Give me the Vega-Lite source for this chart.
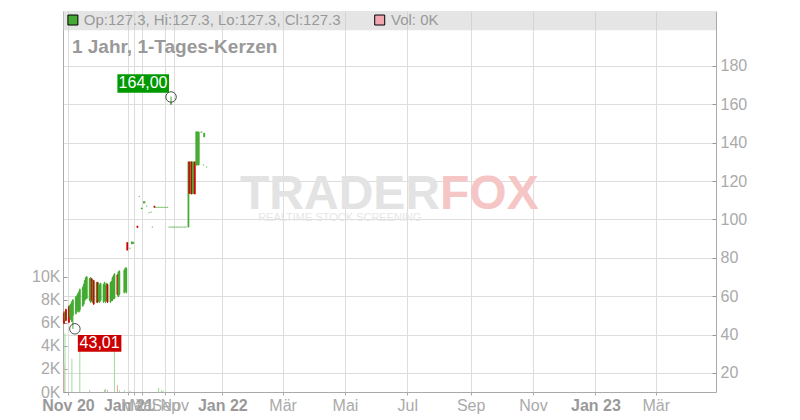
{
"$schema": "https://vega.github.io/schema/vega-lite/v6.json",
"width": 653, "height": 381,
"autosize": {"type": "none"},
"padding": {"left": 63, "top": 11, "right": 84, "bottom": 28},
"background": "#ffffff",
"config": {"view": {"stroke": null}, "font": "Liberation Sans"},
"data": {"values": [
{"d":"2020-10-28","o":51,"h":52,"l":45.5,"c":46,"v":2400},
{"d":"2020-10-29","o":47.5,"h":52,"l":47,"c":51.5,"v":5100},
{"d":"2020-10-30","o":53,"h":53.5,"l":47,"c":47.5},
{"d":"2020-11-02","o":54.5,"h":55,"l":46,"c":46.5},
{"d":"2020-11-03","o":49,"h":55.5,"l":48.5,"c":55},
{"d":"2020-11-04","o":48,"h":56,"l":47.5,"c":56},
{"d":"2020-11-05","o":47,"h":57.5,"l":46.5,"c":57,"v":2900},
{"d":"2020-11-06","o":50,"h":58.5,"l":43.01,"c":58},
{"d":"2020-11-09","o":51,"h":60,"l":50.5,"c":59.5},
{"d":"2020-11-10","o":52,"h":60.5,"l":51.5,"c":60},
{"d":"2020-11-11","o":53,"h":61.5,"l":52.5,"c":61},
{"d":"2020-11-12","o":52,"h":62.5,"l":51.5,"c":62},
{"d":"2020-11-13","o":53,"h":64,"l":52,"c":63.5,"v":3900},
{"d":"2020-11-16","o":55,"h":65,"l":54.5,"c":64.5},
{"d":"2020-11-17","o":56,"h":66.5,"l":55.5,"c":66},
{"d":"2020-11-18","o":58,"h":68.5,"l":57.5,"c":68},
{"d":"2020-11-19","o":59,"h":70,"l":58.5,"c":69.5},
{"d":"2020-11-20","o":59,"h":70.5,"l":58.5,"c":70},
{"d":"2020-11-23","o":58,"h":69.5,"l":57.5,"c":69,"v":200},
{"d":"2020-11-24","o":57,"h":70,"l":56.5,"c":69.5},
{"d":"2020-11-25","o":69,"h":69.5,"l":57.5,"c":58},
{"d":"2020-11-26","o":57,"h":68.5,"l":56.5,"c":68},
{"d":"2020-11-27","o":68,"h":68.5,"l":55.5,"c":56},
{"d":"2020-11-30","o":57,"h":67.5,"l":56.5,"c":67},
{"d":"2020-12-01","o":67,"h":67.5,"l":56.5,"c":57},
{"d":"2020-12-02","o":58,"h":67,"l":57.5,"c":66.5},
{"d":"2020-12-03","o":57,"h":66,"l":56.5,"c":65.5},
{"d":"2020-12-04","o":58,"h":67,"l":57.5,"c":66.5},
{"d":"2020-12-07","o":57,"h":66.5,"l":56.5,"c":66},
{"d":"2020-12-08","o":58,"h":67.5,"l":57.5,"c":67,"v":200},
{"d":"2020-12-09","o":57,"h":66,"l":56.5,"c":65.5,"v":250},
{"d":"2020-12-10","o":58,"h":67,"l":57.5,"c":66.5},
{"d":"2020-12-11","o":66,"h":66.5,"l":56.5,"c":57,"v":200},
{"d":"2020-12-14","o":57,"h":67.5,"l":56.5,"c":67},
{"d":"2020-12-15","o":58,"h":68,"l":57.5,"c":67.5},
{"d":"2020-12-16","o":58,"h":70,"l":57.5,"c":69.5},
{"d":"2020-12-17","o":59,"h":71,"l":58.5,"c":70.5},
{"d":"2020-12-18","o":59,"h":72,"l":58.5,"c":71.5,"v":4100},
{"d":"2020-12-21","o":71,"h":71.5,"l":60.5,"c":61,"v":600},
{"d":"2020-12-22","o":60,"h":73,"l":59.5,"c":72.5},
{"d":"2020-12-23","o":61,"h":73.5,"l":60.5,"c":73,"v":150},
{"d":"2020-12-28","o":62,"h":74,"l":61.5,"c":73.5,"v":150},
{"d":"2020-12-29","o":63,"h":75,"l":62.5,"c":74.5},
{"d":"2020-12-30","o":62,"h":75,"l":61.5,"c":74.5},
{"d":"2020-12-31","o":88,"h":88,"l":84,"c":84},
{"d":"2021-01-18","o":85,"h":85,"l":85,"c":85,"v":100},
{"d":"2021-02-05","o":87.2,"h":88.4,"l":87.2,"c":88.4},
{"d":"2021-02-20","o":87.5,"h":88,"l":87.5,"c":88},
{"d":"2021-03-25","o":96.6,"h":96.6,"l":95.8,"c":95.8},
{"d":"2021-04-08","o":112,"h":112,"l":112,"c":112},
{"d":"2021-04-26","o":105.5,"h":106,"l":105.5,"c":106},
{"d":"2021-05-10","o":108.5,"h":109.3,"l":108.5,"c":109.3},
{"d":"2021-05-16","o":109,"h":109,"l":109,"c":109},
{"d":"2021-05-24","o":107,"h":107,"l":107,"c":107},
{"d":"2021-06-06","o":103.5,"h":103.5,"l":103.5,"c":103.5},
{"d":"2021-06-17","o":103.8,"h":103.8,"l":103.8,"c":103.8},
{"d":"2021-06-24","o":96,"h":96,"l":96,"c":96},
{"d":"2021-07-05","o":107,"h":107,"l":106.3,"c":106.3},
{"d":"2021-07-11","o":106.3,"h":106.3,"l":106.3,"c":106.3},
{"d":"2021-07-19","o":106.3,"h":106.3,"l":106.3,"c":106.3},
{"d":"2021-07-27","o":106.3,"h":106.3,"l":106.3,"c":106.3,"v":350},
{"d":"2021-08-04","o":106.3,"h":106.3,"l":106.3,"c":106.3},
{"d":"2021-08-12","o":106.3,"h":106.3,"l":106.3,"c":106.3,"v":150},
{"d":"2021-08-20","o":106.3,"h":106.3,"l":106.3,"c":106.3,"v":100},
{"d":"2021-08-28","o":106.3,"h":106.3,"l":106.3,"c":106.3},
{"d":"2021-09-06","o":106.3,"h":106.3,"l":106.3,"c":106.3},
{"d":"2021-09-16","o":106.3,"h":106.3,"l":106.3,"c":106.3},
{"d":"2021-09-28","o":96,"h":96,"l":96,"c":96},
{"d":"2021-10-08","o":96,"h":96,"l":96,"c":96},
{"d":"2021-10-10","o":160,"h":164,"l":159.8,"c":160.4},
{"d":"2021-10-18","o":96,"h":96,"l":96,"c":96},
{"d":"2021-10-28","o":96,"h":96,"l":96,"c":96},
{"d":"2021-11-02","o":96,"h":96,"l":96,"c":96},
{"d":"2021-11-04","o":96,"h":96,"l":96,"c":96},
{"d":"2021-11-06","o":96,"h":96,"l":96,"c":96},
{"d":"2021-11-08","o":96,"h":96,"l":96,"c":96},
{"d":"2021-11-10","o":96,"h":96,"l":96,"c":96},
{"d":"2021-11-12","o":96,"h":96,"l":96,"c":96},
{"d":"2021-11-14","o":96,"h":96,"l":96,"c":96},
{"d":"2021-11-16","o":96,"h":96,"l":96,"c":96},
{"d":"2021-11-19","o":96,"h":130,"l":96,"c":130},
{"d":"2021-11-20","o":130,"h":130,"l":113.5,"c":113.5},
{"d":"2021-11-22","o":113.5,"h":130,"l":113.5,"c":130},
{"d":"2021-11-23","o":130,"h":130,"l":113.2,"c":113.2},
{"d":"2021-11-25","o":113.5,"h":130,"l":113.5,"c":130},
{"d":"2021-11-27","o":130,"h":130,"l":113.2,"c":113.2},
{"d":"2021-11-29","o":128.3,"h":145.7,"l":128.3,"c":145.7},
{"d":"2021-12-01","o":128.3,"h":145.7,"l":128.3,"c":145.7},
{"d":"2021-12-02","o":128.5,"h":145.5,"l":128.5,"c":145.5},
{"d":"2021-12-05","o":145.5,"h":145.5,"l":145.5,"c":145.5},
{"d":"2021-12-06","o":145.5,"h":145.5,"l":145.5,"c":145.5},
{"d":"2021-12-08","o":128.3,"h":128.3,"l":128.3,"c":128.3},
{"d":"2021-12-09","o":143,"h":145,"l":143,"c":145},
{"d":"2021-12-12","o":127.3,"h":127.3,"l":127.3,"c":127.3}
]},
"encoding": {
  "x": {"field": "d", "type": "temporal", "title": null,
    "scale": {"type": "utc", "nice": false,
      "domain": [1603756800000, 1682726400000],
      "domainRaw": {"expr": "[1603756800000, 1609459200000, 1614556800000, 1619827200000, 1630454400000, 1635724800000, 1640995200000, 1682726400000]"},
      "range": [0, 65.3, 71.3, 79.3, 102.3, 111.3, 159.3, 653]},
    "axis": {
      "values": [1604188800000, 1609459200000, 1614556800000, 1619827200000, 1630454400000, 1635724800000, 1640995200000, 1646092800000, 1651363200000, 1656633600000, 1661990400000, 1667260800000, 1672531200000, 1677628800000],
      "labelExpr": "(['Jan','Feb','Mär','Apr','Mai','Jun','Jul','Aug','Sep','Okt','Nov','Dez'])[utcmonth(datum.value)] + ((utcmonth(datum.value)==0 || utcyear(datum.value)==2020) ? ' ' + (utcyear(datum.value) % 100) : '')",
      "labelFontWeight": {"condition": {"test": "utcmonth(datum.value)==0 || utcyear(datum.value)==2020", "value": "bold"}, "value": "normal"},
      "labelColor": {"condition": {"test": "utcmonth(datum.value)==0 || utcyear(datum.value)==2020", "value": "#999999"}, "value": "#aaaaaa"},
      "labelFontSize": 16, "labelFont": "Liberation Sans",
      "labelOverlap": false, "labelBound": false, "labelFlush": false,
      "grid": true, "gridColor": "#dddddd", "domainColor": "#aaaaaa", "tickColor": "#aaaaaa",
      "tickSize": 3, "labelPadding": 2, "title": null}
  }
},
"layer": [
  {"mark": {"type": "bar", "width": 1},
   "encoding": {
     "y": {"field": "v", "type": "quantitative", "stack": null, "title": null,
       "scale": {"domain": [0, 33130], "nice": false, "zero": true},
       "axis": {"orient": "left", "values": [0,2000,4000,6000,8000,10000], "labelExpr": "(datum.value/1000) + 'K'",
         "grid": false, "domainColor": "#aaaaaa", "tickColor": "#999999", "tickSize": -4, "labelPadding": 7,
         "labelFontSize": 16, "labelFont": "Liberation Sans", "labelColor": "#aaaaaa", "title": null}},
     "fill": {"condition": {"test": "datum.c < datum.o", "value": "#f2a6a6"}, "value": "#a3d99d"}
   }},
  {"layer": [
    {"data": {"values": [{"d": "2020-10-27", "d2": "2023-04-29", "p": 198.6, "p2": 208.6}]},
     "mark": {"type": "rect", "fill": "#cccccc", "opacity": 0.5},
     "encoding": {
       "x2": {"field": "d2"},
       "y": {"field": "p", "type": "quantitative", "title": null, "scale": {"domain": [10.1, 208.6], "nice": false, "zero": false}},
       "y2": {"field": "p2"}}},
    {"data": {"values": [{"d": "2022-08-02", "p": 112.7}]},
     "mark": {"type": "text", "text": "TRADER", "align": "right", "baseline": "middle", "font": "Liberation Sans", "fontWeight": "bold", "fontSize": 48, "color": "#e3e3e3"},
     "encoding": {
       "y": {"field": "p", "type": "quantitative", "title": null, "scale": {"domain": [10.1, 208.6], "nice": false, "zero": false}}}},
    {"data": {"values": [{"d": "2022-08-02", "p": 112.7}]},
     "mark": {"type": "text", "text": "FOX", "align": "left", "baseline": "middle", "font": "Liberation Sans", "fontWeight": "bold", "fontSize": 48, "color": "#f6c6c6"},
     "encoding": {
       "y": {"field": "p", "type": "quantitative", "title": null, "scale": {"domain": [10.1, 208.6], "nice": false, "zero": false}}}},
    {"data": {"values": [{"d": "2022-04-26", "p": 100.7}]},
     "mark": {"type": "text", "text": "REALTIME STOCK SCREENING", "align": "center", "baseline": "middle", "font": "Liberation Sans", "fontSize": 11, "color": "#e6e6e6"},
     "encoding": {
       "y": {"field": "p", "type": "quantitative", "title": null, "scale": {"domain": [10.1, 208.6], "nice": false, "zero": false}}}},
    {"mark": {"type": "rule", "strokeWidth": 1},
     "encoding": {
       "y": {"field": "l", "type": "quantitative", "title": null,
         "scale": {"domain": [10.1, 208.6], "nice": false, "zero": false},
         "axis": {"orient": "right", "values": [20,40,60,80,100,120,140,160,180], "grid": true, "gridColor": "#dddddd",
           "domainColor": "#aaaaaa", "tickColor": "#999999", "tickSize": -4, "labelPadding": 8,
           "labelFontSize": 16, "labelFont": "Liberation Sans", "labelColor": "#aaaaaa", "title": null}},
       "y2": {"field": "h"},
       "stroke": {"condition": {"test": "datum.c < datum.o", "value": "#cc0000"}, "value": "#44aa33"}}},
    {"mark": {"type": "bar", "width": 1.2, "strokeWidth": 0.5},
     "encoding": {
       "y": {"field": "o", "type": "quantitative", "title": null, "scale": {"domain": [10.1, 208.6], "nice": false, "zero": false}},
       "y2": {"field": "c"},
       "fill": {"condition": {"test": "datum.c < datum.o", "value": "#cc0000"}, "value": "#44aa33"},
       "stroke": {"condition": {"test": "datum.c < datum.o", "value": "#cc0000"}, "value": "#44aa33"}}},
    {"data": {"values": [{"d": "2020-11-08", "p": 43.01}, {"d": "2021-10-10", "p": 163.8}]},
     "mark": {"type": "point", "shape": "circle", "size": 110, "filled": false, "stroke": "#000000", "strokeWidth": 1},
     "encoding": {
       "y": {"field": "p", "type": "quantitative", "title": null, "scale": {"domain": [10.1, 208.6], "nice": false, "zero": false}}}},
    {"data": {"values": [{"d": "2020-11-11", "d2": "2020-12-25", "p": 31.1, "p2": 39.8}]},
     "mark": {"type": "rect", "fill": "#cc0000"},
     "encoding": {
       "x2": {"field": "d2"},
       "y": {"field": "p", "type": "quantitative", "title": null, "scale": {"domain": [10.1, 208.6], "nice": false, "zero": false}},
       "y2": {"field": "p2"}}},
    {"data": {"values": [{"d": "2020-12-03", "p": 35.5}]},
     "mark": {"type": "text", "text": "43,01", "align": "center", "baseline": "middle", "font": "Liberation Sans", "fontSize": 16, "color": "#ffffff"},
     "encoding": {
       "y": {"field": "p", "type": "quantitative", "title": null, "scale": {"domain": [10.1, 208.6], "nice": false, "zero": false}}}},
    {"data": {"values": [{"d": "2020-12-21", "d2": "2021-09-26", "p": 166.0, "p2": 175.7}]},
     "mark": {"type": "rect", "fill": "#009900"},
     "encoding": {
       "x2": {"field": "d2"},
       "y": {"field": "p", "type": "quantitative", "title": null, "scale": {"domain": [10.1, 208.6], "nice": false, "zero": false}},
       "y2": {"field": "p2"}}},
    {"data": {"values": [{"d": "2021-05-05", "p": 170.9}]},
     "mark": {"type": "text", "text": "164,00", "align": "center", "baseline": "middle", "font": "Liberation Sans", "fontSize": 16, "color": "#ffffff"},
     "encoding": {
       "y": {"field": "p", "type": "quantitative", "title": null, "scale": {"domain": [10.1, 208.6], "nice": false, "zero": false}}}},
    {"data": {"values": [{"d": "2020-11-05", "p": 189.8}]},
     "mark": {"type": "text", "text": "1 Jahr, 1-Tages-Kerzen", "align": "left", "baseline": "middle", "font": "Liberation Sans", "fontWeight": "bold", "fontSize": 19, "color": "#999999"},
     "encoding": {
       "y": {"field": "p", "type": "quantitative", "title": null, "scale": {"domain": [10.1, 208.6], "nice": false, "zero": false}}}},
    {"data": {"values": [{"d": "2020-11-06", "p": 203.9}]},
     "mark": {"type": "point", "shape": "square", "size": 100, "filled": true, "fill": "#44aa33", "stroke": "#000000", "strokeWidth": 1, "opacity": 1},
     "encoding": {
       "y": {"field": "p", "type": "quantitative", "title": null, "scale": {"domain": [10.1, 208.6], "nice": false, "zero": false}}}},
    {"data": {"values": [{"d": "2020-11-17", "p": 203.9}]},
     "mark": {"type": "text", "text": "Op:127.3, Hi:127.3, Lo:127.3, Cl:127.3", "align": "left", "baseline": "middle", "font": "Liberation Sans", "fontSize": 15, "color": "#999999"},
     "encoding": {
       "y": {"field": "p", "type": "quantitative", "title": null, "scale": {"domain": [10.1, 208.6], "nice": false, "zero": false}}}},
    {"data": {"values": [{"d": "2022-06-04", "p": 203.9}]},
     "mark": {"type": "point", "shape": "square", "size": 100, "filled": true, "fill": "#f2a6b0", "stroke": "#000000", "strokeWidth": 1, "opacity": 1},
     "encoding": {
       "y": {"field": "p", "type": "quantitative", "title": null, "scale": {"domain": [10.1, 208.6], "nice": false, "zero": false}}}},
    {"data": {"values": [{"d": "2022-06-15", "p": 203.9}]},
     "mark": {"type": "text", "text": "Vol: 0K", "align": "left", "baseline": "middle", "font": "Liberation Sans", "fontSize": 15, "color": "#999999"},
     "encoding": {
       "y": {"field": "p", "type": "quantitative", "title": null, "scale": {"domain": [10.1, 208.6], "nice": false, "zero": false}}}}
  ]}
],
"resolve": {"scale": {"y": "independent"}, "axis": {"y": "independent"}}
}
